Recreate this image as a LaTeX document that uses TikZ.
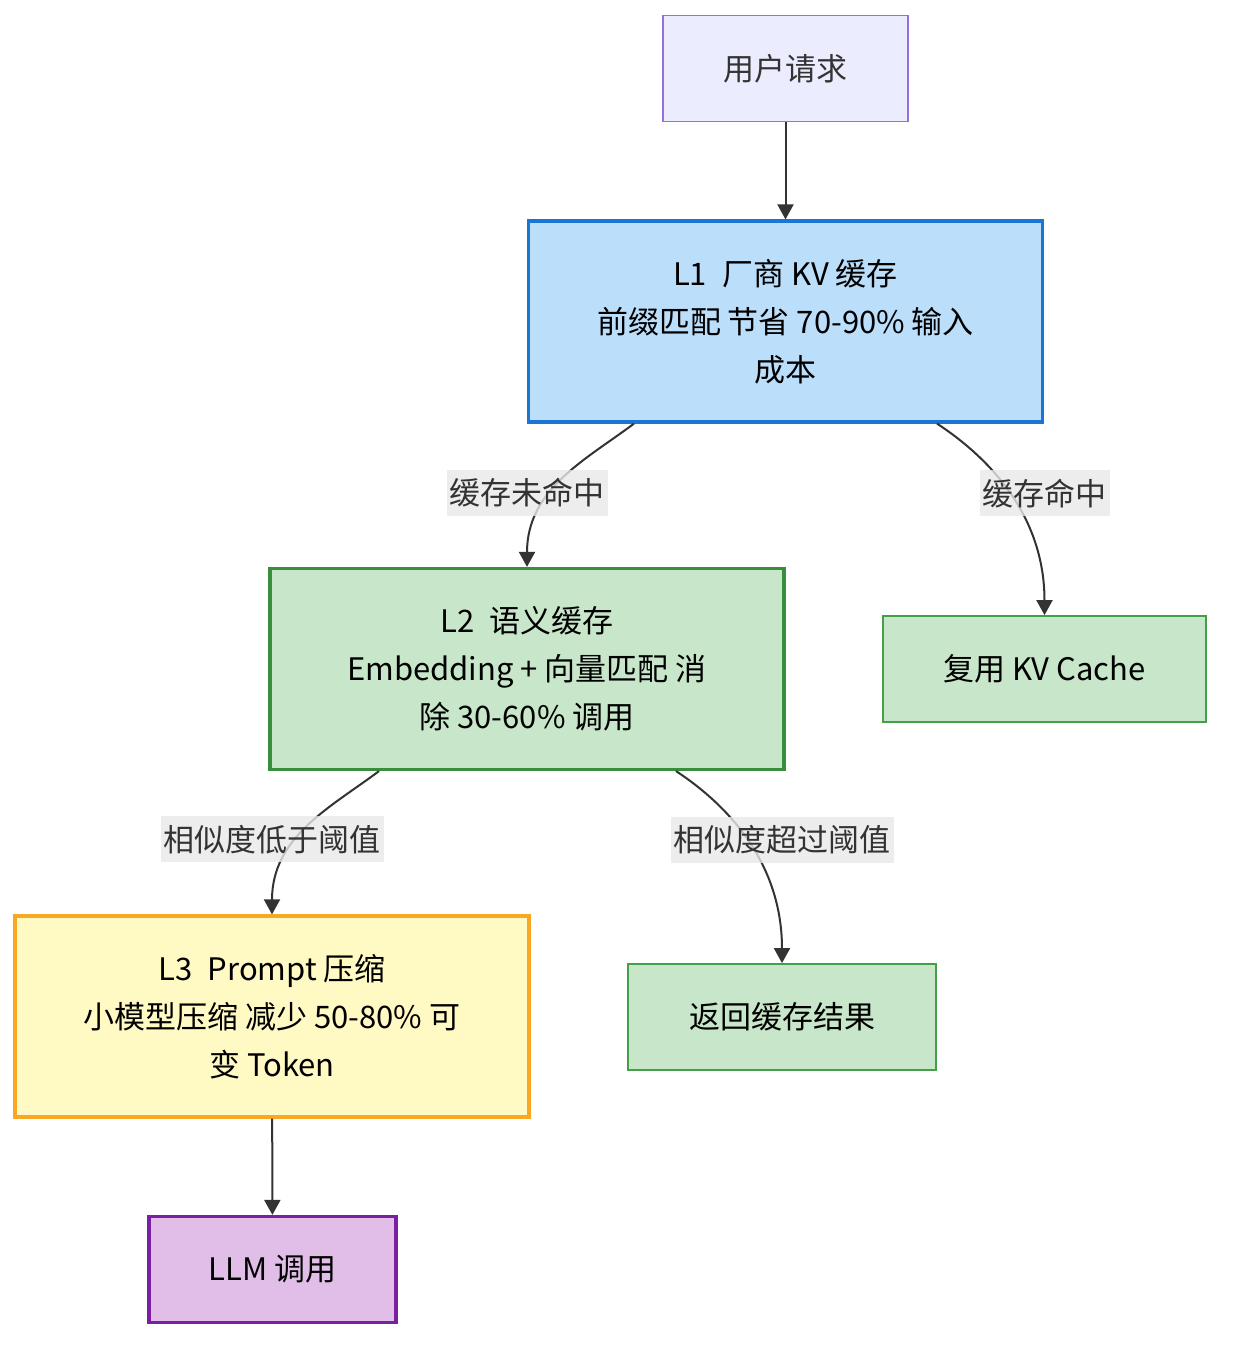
\documentclass[tikz,border=0pt]{standalone}
\usepackage{fontspec}
\setmainfont{Noto Sans CJK SC}
\usepackage{xcolor}
\usetikzlibrary{positioning,calc,arrows.meta}

\definecolor{reqfill}{HTML}{ECECFF}
\definecolor{reqline}{HTML}{9370DB}
\definecolor{bluefill}{HTML}{BBDEFB}
\definecolor{blueline}{HTML}{1976D2}
\definecolor{greenfill}{HTML}{C8E6C9}
\definecolor{greenline}{HTML}{388E3C}
\definecolor{greenthin}{HTML}{43A047}
\definecolor{yellowfill}{HTML}{FFF9C4}
\definecolor{yellowline}{HTML}{F9A825}
\definecolor{purplefill}{HTML}{E1BEE7}
\definecolor{purpleline}{HTML}{7B1FA2}
\definecolor{edgegray}{HTML}{333333}
\definecolor{labelbg}{HTML}{E8E8E8}

\begin{document}
\begin{tikzpicture}[
  x=0.5pt, y=-0.5pt,
  font=\fontsize{15.5}{24}\selectfont,
  box/.style={draw, align=center, inner sep=0pt, text=black},
  smallbox/.style={box, minimum height=53pt, line width=0.9pt},
  bigbox/.style={box, minimum width=257pt, minimum height=100.5pt, line width=1.6pt},
  elabel/.style={fill=labelbg, fill opacity=0.8, text opacity=1, text=edgegray,
                 inner xsep=1.5pt, inner ysep=0pt, minimum height=23pt},
  flow/.style={draw=edgegray, line width=1pt, -{Triangle[length=7.5pt,width=8pt]}},
]
\useasboundingbox (0,0) rectangle (1238,1356);

% ---------- request + L1 ----------
\node[smallbox, fill=reqfill, draw=reqline, text=edgegray, minimum width=122.5pt]
      (req) at (785.5,68.5) {用户请求};
\node[bigbox, fill=bluefill, draw=blueline] (l1) at (785.5,321.5)
      {L1\enspace 厂商 KV 缓存\\前缀匹配 节省 70-90\% 输入\\成本};

% ---------- L2 + hit ----------
\node[bigbox, fill=greenfill, draw=greenline] (l2) at (527,669)
      {L2\enspace 语义缓存\\Embedding + 向量匹配 消\\除 30-60\% 调用};
\node[smallbox, fill=greenfill, draw=greenthin, minimum width=161.5pt]
      (kvhit) at (1044.5,669) {复用 KV Cache};

% ---------- L3 + cached result ----------
\node[bigbox, fill=yellowfill, draw=yellowline] (l3) at (272,1016.5)
      {L3\enspace Prompt 压缩\\小模型压缩 减少 50-80\% 可\\变 Token};
\node[smallbox, fill=greenfill, draw=greenthin, minimum width=154pt]
      (hitres) at (782,1017) {返回缓存结果};

% ---------- LLM ----------
\node[smallbox, fill=purplefill, draw=purpleline, line width=1.6pt, minimum width=123.5pt]
      (llm) at (272.5,1269.5) {LLM 调用};

% ---------- Arrows ----------
\draw[flow] (req) -- (l1);
\draw[flow] ($(l1.south)+(-151.5,0)$) .. controls +(-48,36) and +(0,-78) .. (l2.north);
\draw[flow] ($(l1.south)+(151.5,0)$) .. controls +(58,38) and +(0,-95) .. (kvhit.north);
\draw[flow] ($(l2.south)+(-148,0)$) .. controls +(-48,36) and +(0,-78) .. (l3.north);
\draw[flow] ($(l2.south)+(149,0)$) .. controls +(58,38) and +(0,-95) .. (hitres.north);
\draw[flow] (l3) -- (llm);

% ---------- edge labels ----------
\node[elabel] (lbmiss) at ($(l2.north)+(0,-74)$) {缓存未命中};
\node[elabel] (lbhit)  at ($(kvhit.north)+(0,-122)$) {缓存命中};
\node[elabel] (lblow)  at ($(l3.north)+(0,-75)$) {相似度低于阈值};
\node[elabel] (lbhigh) at ($(hitres.north)+(0,-123)$) {相似度超过阈值};

\end{tikzpicture}
\end{document}
